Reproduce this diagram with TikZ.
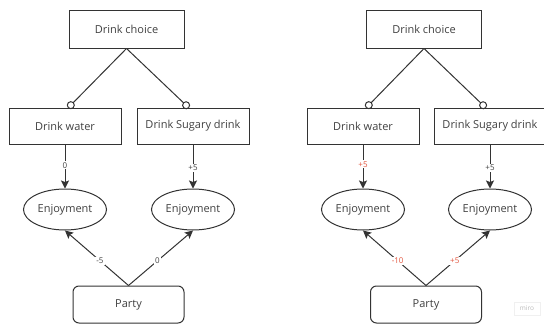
\documentclass[tikz,border=0pt]{standalone}
\usepackage{fontspec}
\setmainfont{Open Sans}
\usetikzlibrary{arrows.meta,shapes.geometric}
\definecolor{ink}{HTML}{333333}
\definecolor{txt}{HTML}{404040}
\definecolor{redlab}{RGB}{226,84,61}
\tikzset{
  sqbox/.style={draw=ink, line width=1pt, minimum width=112pt, minimum height=36pt, inner sep=0pt, text=txt, font=\fontsize{11}{13}\selectfont},
  topbox/.style={sqbox, minimum width=115pt, minimum height=38pt},
  rbox/.style={sqbox, rounded corners=6pt, minimum width=111pt, minimum height=37pt},
  ell/.style={draw=ink, line width=1pt, ellipse, minimum width=83pt, minimum height=41pt, inner sep=0pt, text=txt, font=\fontsize{11}{13}\selectfont},
  link/.style={draw=ink, line width=1pt, -{Circle[open, length=8pt, width=8pt, line width=1pt]}},
  arr/.style={draw=ink, line width=1pt, -{Stealth[length=8pt, width=8pt, inset=1.5pt]}},
  lab/.style={fill=white, inner sep=1pt, font=\fontsize{8}{9}\selectfont, text=txt},
  redl/.style={lab, text=redlab}
}
\begin{document}
\begin{tikzpicture}[x=1pt, y=-1pt]
\useasboundingbox (0,0) rectangle (544,327);
% ---- left diagram ----
\node[topbox] (c1) at (126.5,29) {Drink choice};
\node[sqbox] (w1) at (65,126) {Drink water};
\node[sqbox] (s1) at (193,126) {Drink Sugary drink};
\node[ell] (e1) at (65,209.5) {Enjoyment};
\node[ell] (f1) at (193,209.5) {Enjoyment};
\node[rbox] (p1) at (128.5,304.5) {Party};
\coordinate (w1t) at (68,108);
\coordinate (s1t) at (189,108);
\draw[link] (c1.south) -- (w1t);
\draw[link] (c1.south) -- (s1t);
\draw[arr] (w1.south) -- node[lab, pos=0.47] {0} (e1.north);
\draw[arr] (s1.south) -- node[lab, pos=0.53] {+5} (f1.north);
\draw[arr] (p1.north) -- node[lab, pos=0.45] {-5} (e1.south);
\draw[arr] (p1.north) -- node[lab, pos=0.45] {0} (f1.south);
% ---- right diagram ----
\node[topbox] (c2) at (424,29) {Drink choice};
\node[sqbox] (w2) at (363,126) {Drink water};
\node[sqbox] (s2) at (490,126) {Drink Sugary drink};
\node[ell] (e2) at (363,209.5) {Enjoyment};
\node[ell] (f2) at (490,209.5) {Enjoyment};
\node[rbox] (p2) at (426,304.5) {Party};
\coordinate (w2t) at (366,108);
\coordinate (s2t) at (486,108);
\draw[link] (c2.south) -- (w2t);
\draw[link] (c2.south) -- (s2t);
\draw[arr] (w2.south) -- node[redl, pos=0.45] {+5} (e2.north);
\draw[arr] (s2.south) -- node[lab, pos=0.53] {+5} (f2.north);
\draw[arr] (p2.north) -- node[redl, pos=0.45] {-10} (e2.south);
\draw[arr] (p2.north) -- node[redl, pos=0.45] {+5} (f2.south);
% watermark
\node[draw=black!6, line width=0.6pt, text=black!28, font=\fontsize{6.5}{7}\selectfont, minimum width=26pt, minimum height=13pt, inner sep=0pt] (wm) at (527,308.5) {miro};
\end{tikzpicture}
\end{document}
